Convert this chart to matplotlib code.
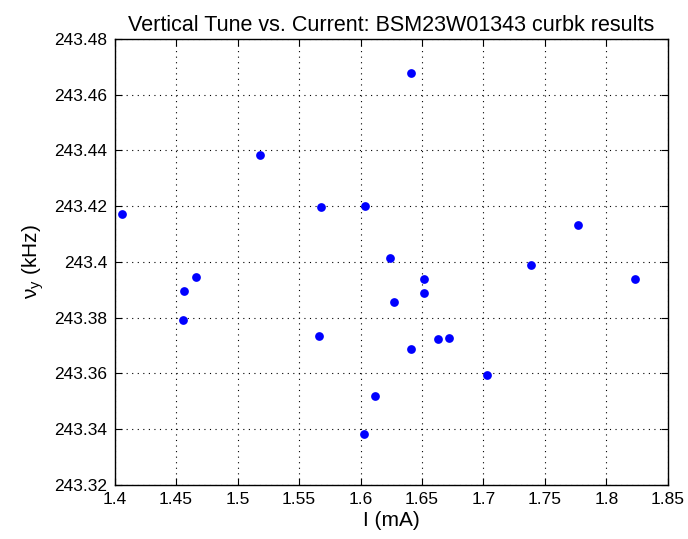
import numpy as np
import matplotlib
matplotlib.use('Agg')
import matplotlib.pyplot as plt

plt.rcParams['font.family'] = ['Liberation Sans', 'DejaVu Sans']
plt.rcParams['mathtext.fontset'] = 'custom'
plt.rcParams['mathtext.rm'] = 'Liberation Sans'

# current (mA) and vertical tune (kHz)
current = [1.4059, 1.5180, 1.5680, 1.4663, 1.4566, 1.4557, 1.5660, 1.6413,
           1.6034, 1.6240, 1.6516, 1.6516, 1.6275, 1.6630, 1.6720, 1.6411,
           1.7026, 1.6115, 1.6031, 1.7766, 1.7384, 1.8234]
tune = [243.4172, 243.4384, 243.4197, 243.3945, 243.3897, 243.3793, 243.3734, 243.4678,
        243.4202, 243.4014, 243.3939, 243.3888, 243.3857, 243.3725, 243.3728, 243.3687,
        243.3594, 243.3519, 243.3383, 243.4132, 243.3990, 243.3939]

xticks = [1.4, 1.45, 1.5, 1.55, 1.6, 1.65, 1.7, 1.75, 1.8, 1.85]
xticklabels = ['1.4', '1.45', '1.5', '1.55', '1.6', '1.65', '1.7', '1.75', '1.8', '1.85']
yticks = [243.32, 243.34, 243.36, 243.38, 243.4, 243.42, 243.44, 243.46, 243.48]
yticklabels = ['243.32', '243.34', '243.36', '243.38', '243.4', '243.42', '243.44', '243.46', '243.48']

fig = plt.figure(figsize=(6.88, 5.39), dpi=100)
ax = fig.add_axes([114.5/688, (539-485)/539, (668-114.5)/688, (485-39)/539])

ax.plot(current, tune, 'o', color='#0000ff', markersize=6.3, markeredgewidth=0)

ax.set_xlim(1.4, 1.85)
ax.set_ylim(243.32, 243.48)
ax.set_xticks(xticks)
ax.set_xticklabels(xticklabels)
ax.set_yticks(yticks)
ax.set_yticklabels(yticklabels)
ax.tick_params(direction='in', length=5, labelsize=12.5, top=True, right=True, pad=5)
ax.grid(True, linestyle=(0, (1, 4)), color='black', linewidth=0.8)
for s in ax.spines.values():
    s.set_linewidth(1.0)

ax.set_xlabel('I (mA)', fontsize=15, labelpad=3)
ax.set_ylabel(r'$\mathregular{\nu_y}$ (kHz)', fontsize=15, labelpad=6)
ax.set_title('Vertical Tune vs. Current: BSM23W01343 curbk results', fontsize=15.5, pad=6)

fig.savefig('out.png', dpi=100)
